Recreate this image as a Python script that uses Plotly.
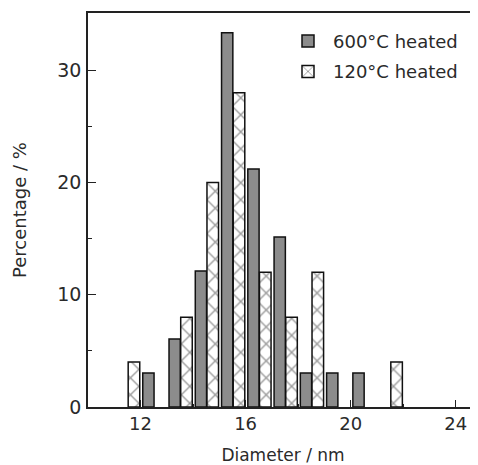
import plotly.graph_objects as go

# Data
d600 = [12.3, 13.3, 14.3, 15.3, 16.3, 17.3, 18.3, 19.3, 20.3]
p600 = [3.03, 6.06, 12.12, 33.33, 21.21, 15.15, 3.03, 3.03, 3.03]

d120 = [11.75, 13.75, 14.75, 15.75, 16.75, 17.75, 18.75, 21.75]
p120 = [4, 8, 20, 28, 12, 8, 12, 4]

xticks = [12, 16, 20, 24]
yticks = [0, 10, 20, 30]

FONT = "DejaVu Sans, Liberation Sans, Arial, sans-serif"
TXT = "#2a2a2a"

fig = go.Figure()
fig.add_trace(go.Bar(
    x=d600, y=p600, width=0.43, name="600°C heated", legendgroup="g600",
    marker=dict(color="#8c8c8c", line=dict(color="#111111", width=1.5)),
))
fig.add_trace(go.Bar(
    x=d120, y=p120, width=0.44, name="120°C heated", legendgroup="g120",
    marker=dict(color="white", line=dict(color="#111111", width=1.5),
                pattern=dict(shape="x", size=12, solidity=0.22,
                             fgcolor="#3a3a3a", bgcolor="white")),
))

fig.update_layout(
    width=470, height=457,
    margin=dict(l=80, r=0, t=5, b=58),
    paper_bgcolor="white", plot_bgcolor="white",
    font=dict(family=FONT, color=TXT, size=17),
    barmode="overlay",
    showlegend=True,
    legend=dict(x=0.50, y=0.975, xanchor="left", yanchor="top",
                font=dict(size=18, color=TXT), bgcolor="rgba(0,0,0,0)",
                tracegroupgap=4, itemwidth=40),
    xaxis=dict(range=[10.0, 24.85], tickvals=xticks, ticks="inside", ticklen=7,
               tickwidth=1.2, tickcolor="#222", showline=True, linecolor="#222",
               linewidth=1.5, mirror=True, showgrid=False, zeroline=False,
               automargin=False,
               tickfont=dict(size=18, color=TXT),
               minor=dict(tickvals=[14, 18, 22], ticks="inside", ticklen=3,
                          tickcolor="#222"),
               title=dict(text="Diameter / nm", font=dict(size=17, color=TXT), standoff=20)),
    yaxis=dict(range=[0, 35.1], tickvals=yticks, ticks="inside", ticklen=8,
               tickwidth=1.2, tickcolor="#222", showline=True, linecolor="#222",
               linewidth=1.5, mirror=False, showgrid=False, zeroline=False,
               automargin=False,
               tickfont=dict(size=19, color=TXT), ticklabelstandoff=1,
               minor=dict(tickvals=[5, 15, 25], ticks="inside", ticklen=4,
                          tickcolor="#222"),
               title=dict(text="Percentage / %", font=dict(size=18, color=TXT), standoff=26)),
)

fig.write_html("out.html")
